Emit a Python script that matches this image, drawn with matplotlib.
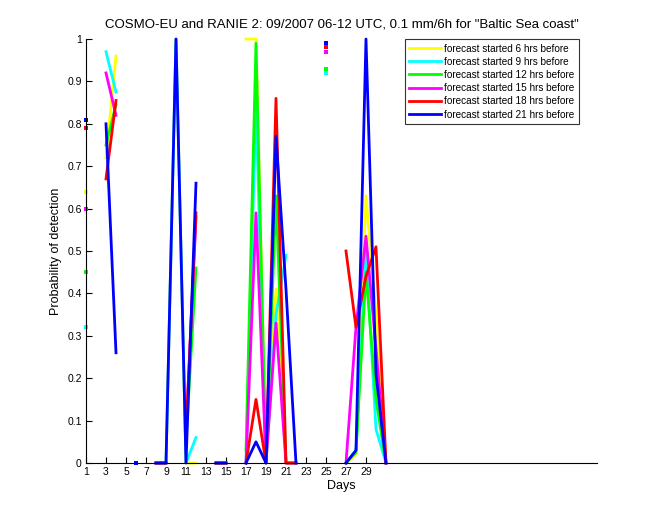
import numpy as np
import matplotlib
matplotlib.use("Agg")
import matplotlib.pyplot as plt

n = np.nan
days = list(range(1, 32))

labels = ["forecast started 6 hrs before", "forecast started 9 hrs before",
          "forecast started 12 hrs before", "forecast started 15 hrs before",
          "forecast started 18 hrs before", "forecast started 21 hrs before"]
colors = ["#FFFF00", "#00FFFF", "#00FF00", "#FF00FF", "#FF0000", "#0000FF"]

#            1     2     3     4    5   6  7  8  9   10   11    12    13  14 15 16   17    18    19   20    21    22 23 24   25   26  27    28    29    30   31
pod_06 = [0.64, n, 0.72, 0.96, n, 0, n, 0, 0, 1.0, 0.00, 0.00, n, 0, 0, n, 1.00, 1.00, 0, 0.41, 0.00, 0.00, n, n, n,    n, 0, 0.02, 0.63, 0.35, 0]
pod_09 = [0.32, n, 0.97, 0.875, n, 0, n, 0, 0, 1.0, 0.00, 0.06, n, 0, 0, n, 0.00, 0.85, 0, 0.35, 0.49, n,    n, n, 0.92, n, 0, 0.03, 0.50, 0.08, 0]
pod_12 = [0.45, n, 0.75, 0.845, n, 0, n, 0, 0, n,   0.05, 0.46, n, 0, 0, n, 0.03, 0.99, 0, 0.63, 0.00, 0.00, n, n, 0.93, n, 0, 0.025, 0.45, 0.15, 0]
pod_15 = [0.60, n, 0.92, 0.82, n, 0, n, 0, 0, n,   0.07, 0.58, n, 0, 0, n, 0.00, 0.59, 0, 0.33, 0.00, 0.00, n, n, 0.97, n, 0, 0.32, 0.535, 0.27, 0]
pod_18 = [0.79, n, 0.67, 0.855, n, 0, n, 0, 0, n,   0.07, 0.59, n, 0, 0, n, 0.00, 0.15, 0, 0.86, 0.00, 0.00, n, n, 0.98, n, 0.50, 0.32, 0.44, 0.51, 0]
pod_21 = [0.81, n, 0.80, 0.26, n, 0, n, 0, 0, 1.0, 0.00, 0.66, n, 0, 0, n, 0.00, 0.05, 0, 0.77, 0.41, 0.00, n, n, 0.99, n, 0, 0.03, 1.00, 0.21, 0]

series = [pod_06, pod_09, pod_12, pod_15, pod_18, pod_21]

xticks = list(range(1, 30, 2))
yticks = [0, 0.1, 0.2, 0.3, 0.4, 0.5, 0.6, 0.7, 0.8, 0.9, 1]
ytick_labels = ["0", "0.1", "0.2", "0.3", "0.4", "0.5", "0.6", "0.7", "0.8", "0.9", "1"]

plt.rcParams['font.family'] = ['Liberation Sans', 'DejaVu Sans']

fig = plt.figure(figsize=(6.6, 5.2), dpi=100)
ax = fig.add_axes([0.1303, 0.1096, 0.7742, 0.8154])

x = np.array(days, dtype=float)
for vals, col, lab in zip(series, colors, labels):
    v = np.array(vals, dtype=float)
    ax.plot(x, v, color=col, lw=2.0, label=lab, clip_on=False)
    fin = np.isfinite(v)
    prev = np.concatenate([[False], fin[:-1]])
    nxt = np.concatenate([fin[1:], [False]])
    iso = fin & ~prev & ~nxt
    ax.plot(x[iso], v[iso], ls='none', marker='s', ms=2.8, mew=0, color=col, clip_on=False)

ax.set_xlim(1, 52.1)
ax.set_ylim(0, 1)
ax.set_xticks(xticks)
ax.set_xticklabels([str(t) for t in xticks])
ax.set_yticks(yticks)
ax.set_yticklabels(ytick_labels)
ax.tick_params(direction='in', length=4, labelsize=7.5, width=0.8, pad=3)
for s in ['top', 'right']:
    ax.spines[s].set_visible(False)
for s in ['left', 'bottom']:
    ax.spines[s].set_linewidth(0.8)

ax.set_xlabel("Days", fontsize=9, labelpad=2)
ax.set_ylabel("Probability of detection", fontsize=9, labelpad=4)
ax.set_title('COSMO-EU and RANIE 2: 09/2007 06-12 UTC, 0.1 mm/6h for "Baltic Sea coast"',
             fontsize=9.5, pad=8)

leg = ax.legend(loc='upper right', bbox_to_anchor=(0.965, 1.0), fontsize=7.2,
                frameon=True, fancybox=False, edgecolor='black', handlelength=3.2,
                handletextpad=0.3, labelspacing=0.32, borderpad=0.45, borderaxespad=0)
leg.get_frame().set_linewidth(0.8)

fig.savefig("out.png", dpi=100)
